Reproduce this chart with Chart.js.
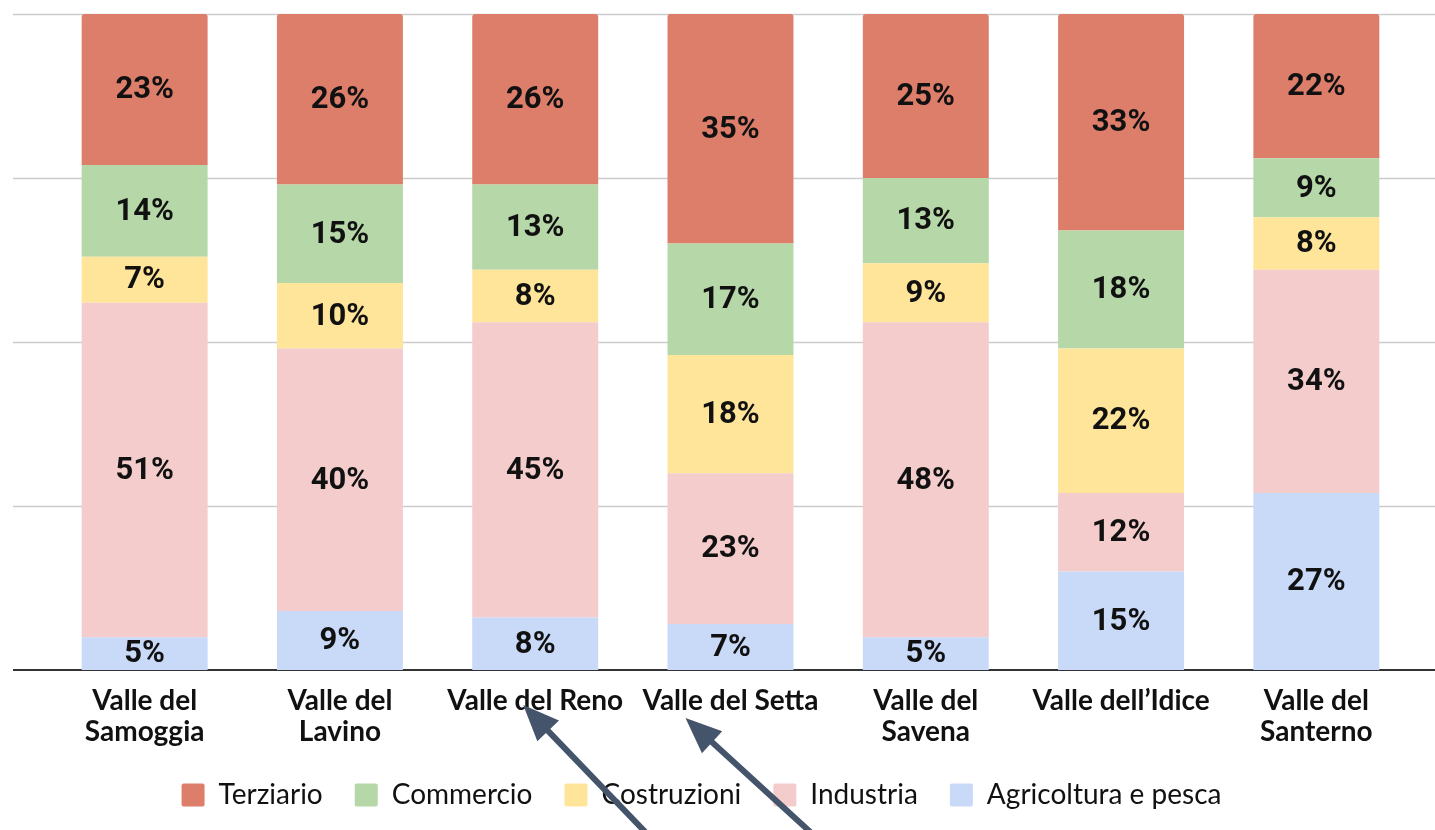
<!DOCTYPE html>
<html>
<head>
<meta charset="utf-8">
<script src="https://cdn.jsdelivr.net/npm/chart.js@4.4.1/dist/chart.umd.min.js"></script>
<style>
  html, body { margin: 0; padding: 0; background: #ffffff; }
  #wrap { width: 1435px; height: 830px; position: relative; }
</style>
</head>
<body>
<div id="wrap"><canvas id="c" width="1435" height="830"></canvas></div>
<script>
const categories = [
  ["Valle del", "Samoggia"],
  ["Valle del", "Lavino"],
  "Valle del Reno",
  "Valle del Setta",
  ["Valle del", "Savena"],
  "Valle dell\u2019Idice",
  ["Valle del", "Santerno"]
];
const agricoltura = [5, 9, 8, 7, 5, 15, 27];
const industria   = [51, 40, 45, 23, 48, 12, 34];
const costruzioni = [7, 10, 8, 18, 9, 22, 8];
const commercio   = [14, 15, 13, 17, 13, 18, 9];
const terziario   = [23, 26, 26, 35, 25, 33, 22];
const gridValues  = [25, 50, 75, 100];

const seriesNames  = ["Agricoltura e pesca", "Industria", "Costruzioni", "Commercio", "Terziario"];
const seriesData   = [agricoltura, industria, costruzioni, commercio, terziario];
const seriesColors = ["#c9daf8", "#f4cccc", "#ffe599", "#b6d7a8", "#dd7e6b"];

const datasets = seriesNames.map((name, i) => ({
  label: name,
  data: seriesData[i],
  backgroundColor: seriesColors[i],
  borderWidth: 0,
  borderSkipped: false,
  borderRadius: i === seriesNames.length - 1 ? {topLeft: 3, topRight: 3, bottomLeft: 0, bottomRight: 0} : 0,
  barPercentage: 0.645,
  categoryPercentage: 1.0
}));

const bgPlugin = {
  id: 'bgGrid',
  afterLayout(chart) {
    if (chart.legend) { chart.legend.left -= 29; chart.legend.right -= 29; }
  },
  beforeDatasetsDraw(chart) {
    const ctx = chart.ctx;
    const y = chart.scales.y;
    ctx.save();
    ctx.strokeStyle = '#cccccc';
    ctx.lineWidth = 1.5;
    gridValues.forEach(v => {
      const py = Math.round(y.getPixelForValue(v)) + 0.5;
      ctx.beginPath();
      ctx.moveTo(13, py);
      ctx.lineTo(1435, py);
      ctx.stroke();
    });
    ctx.strokeStyle = '#333333';
    ctx.lineWidth = 2;
    const p0 = Math.round(y.getPixelForValue(0));
    ctx.beginPath();
    ctx.moveTo(13, p0);
    ctx.lineTo(1435, p0);
    ctx.stroke();
    ctx.restore();
  }
};

const labelPlugin = {
  id: 'segLabels',
  afterDatasetsDraw(chart) {
    const ctx = chart.ctx;
    ctx.save();
    ctx.font = 'bold 31px Roboto, "Liberation Sans", Arial, sans-serif';
    ctx.fillStyle = '#111111';
    ctx.textAlign = 'center';
    ctx.textBaseline = 'middle';
    chart.data.datasets.forEach((ds, di) => {
      const meta = chart.getDatasetMeta(di);
      meta.data.forEach((bar, i) => {
        const cy = (bar.y + bar.base) / 2;
        ctx.fillText(ds.data[i] + '%', bar.x, cy + 1);
      });
    });
    ctx.restore();
  }
};

function drawArrow(ctx, x1, y1, x2, y2) {
  const ang = Math.atan2(y2 - y1, x2 - x1);
  const headLen = 36, headHalf = 15;
  const bx = x2 - headLen * Math.cos(ang);
  const by = y2 - headLen * Math.sin(ang);
  ctx.beginPath();
  ctx.moveTo(x1, y1);
  ctx.lineTo(bx + 4 * Math.cos(ang), by + 4 * Math.sin(ang));
  ctx.stroke();
  ctx.beginPath();
  ctx.moveTo(x2, y2);
  ctx.lineTo(bx + headHalf * Math.sin(ang), by - headHalf * Math.cos(ang));
  ctx.lineTo(bx - headHalf * Math.sin(ang), by + headHalf * Math.cos(ang));
  ctx.closePath();
  ctx.fill();
}

const arrowPlugin = {
  id: 'arrows',
  afterDraw(chart) {
    const ctx = chart.ctx;
    const x = chart.scales.x;
    const b = chart.chartArea.bottom;
    ctx.save();
    ctx.strokeStyle = '#44546a';
    ctx.fillStyle = '#44546a';
    ctx.lineWidth = 6;
    ctx.lineCap = 'butt';
    const pReno = x.getPixelForValue(2);
    const pSetta = x.getPixelForValue(3);
    drawArrow(ctx, pReno + 112, b + 164, pReno - 12, b + 35);
    drawArrow(ctx, pSetta + 82, b + 164, pSetta - 45, b + 48);
    ctx.restore();
  }
};

new Chart(document.getElementById('c'), {
  type: 'bar',
  data: { labels: categories, datasets: datasets },
  options: {
    responsive: false,
    animation: false,
    devicePixelRatio: 1,
    layout: { padding: { top: 14, left: 47, right: 21, bottom: 11 } },
    scales: {
      x: {
        stacked: true,
        grid: { display: false },
        border: { display: false },
        ticks: {
          color: '#111111',
          padding: 7,
          maxRotation: 0,
          autoSkip: false,
          font: { family: 'Lato, "Open Sans", sans-serif', size: 28, weight: 'bold', lineHeight: 1.12 }
        },
        afterFit(scale) { scale.height = 79; }
      },
      y: {
        stacked: true,
        min: 0,
        max: 100,
        display: false
      }
    },
    plugins: {
      legend: {
        position: 'bottom',
        reverse: true,
        labels: {
          boxWidth: 23,
          boxHeight: 23,
          padding: 32,
          color: '#111111',
          font: { family: 'Lato, "Open Sans", sans-serif', size: 28 },
          generateLabels(chart) {
            const items = Chart.defaults.plugins.legend.labels.generateLabels(chart);
            items.forEach(it => { it.lineWidth = 0; it.borderRadius = 2; });
            return items;
          },
          useBorderRadius: true,
          borderRadius: 2
        }
      },
      tooltip: { enabled: false }
    }
  },
  plugins: [bgPlugin, labelPlugin, arrowPlugin]
});
</script>
</body>
</html>
